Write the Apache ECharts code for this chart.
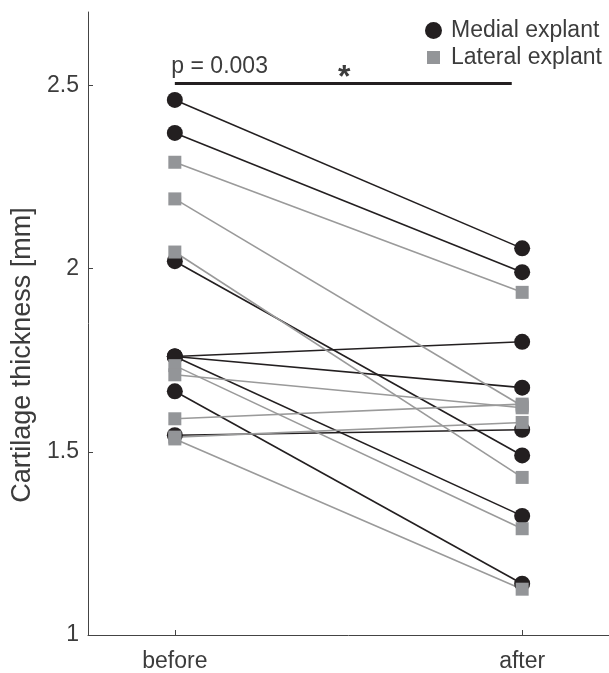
<!DOCTYPE html>
<html>
<head>
<meta charset="utf-8">
<script src="https://cdn.jsdelivr.net/npm/echarts@6/dist/echarts.min.js"></script>
<style>
  html, body { margin: 0; padding: 0; background: #fff; }
  #chart { width: 609px; height: 673px; }
</style>
</head>
<body>
<div id="chart"></div>
<script>
// conditions on the x axis
var conditions = ['before', 'after'];

// medial explants (black circles), paired before/after values
var medialBefore = [2.46, 2.37, 2.02, 1.76, 1.76, 1.76, 1.665, 1.545];
var medialAfter  = [2.055, 1.99, 1.49, 1.80, 1.675, 1.325, 1.14, 1.56];

// lateral explants (grey squares)
var lateralBefore = [2.29, 2.19, 2.045, 1.735, 1.71, 1.59, 1.54, 1.535];
var lateralAfter  = [1.935, 1.625, 1.43, 1.29, 1.62, 1.63, 1.58, 1.125];

var yTicks = [1, 1.5, 2, 2.5];
var sigBar = [[1, 2.505], [1.97, 2.505]];
var pText = 'p = 0.003';

var black = '#231f20';
var grey = '#939598';
var textColor = '#3c3c3c';
var font = 'Liberation Sans, Arial, sans-serif';

var chart = echarts.init(document.getElementById('chart'));

function pairSeries(name, before, after, symbol, size, color, lineColor) {
  var out = [];
  for (var i = 0; i < before.length; i++) {
    out.push({
      name: name,
      type: 'line',
      data: [[1, before[i]], [2, after[i]]],
      symbol: symbol,
      symbolSize: size,
      itemStyle: { color: color },
      lineStyle: { color: lineColor, width: 1.6 },
      emphasis: { disabled: true },
      animation: false
    });
  }
  return out;
}

var series = []
  .concat(pairSeries('Medial explant', medialBefore, medialAfter, 'circle', 16, black, black))
  .concat(pairSeries('Lateral explant', lateralBefore, lateralAfter, 'rect', 13, grey, '#9a9a9a'));

series.push({
  name: 'sig',
  type: 'line',
  data: sigBar,
  symbol: 'none',
  lineStyle: { color: black, width: 3 },
  silent: true,
  animation: false
});

var option = {
  backgroundColor: '#fff',
  animation: false,
  grid: { left: 88, top: 12, width: 524, height: 625, containLabel: false },
  legend: {
    orient: 'vertical',
    left: 423,
    top: 19,
    padding: 0,
    itemGap: 4,
    itemWidth: 17,
    itemHeight: 17,
    textStyle: { fontSize: 23, color: textColor, fontFamily: font, padding: [0, 0, 0, 4] },
    data: [
      { name: 'Medial explant', icon: 'circle', itemStyle: { color: black } },
      { name: 'Lateral explant', icon: 'rect', itemStyle: { color: grey, borderColor: '#fff', borderWidth: 4 } }
    ],
    selectedMode: false
  },
  xAxis: {
    type: 'value',
    min: 0.75,
    max: 2.25,
    splitLine: { show: false },
    axisLine: { show: true, lineStyle: { color: '#444', width: 1 } },
    axisTick: { show: true, inside: true, length: 5, customValues: [1, 2], lineStyle: { color: '#444' } },
    axisLabel: {
      customValues: [1, 2],
      margin: 15,
      fontSize: 23,
      color: textColor,
      fontFamily: font,
      formatter: function (v) { return conditions[Math.round(v) - 1]; }
    }
  },
  yAxis: {
    type: 'value',
    min: 1,
    max: 2.7,
    splitLine: { show: false },
    axisLine: { show: true, lineStyle: { color: '#444', width: 1 } },
    axisTick: { show: true, inside: true, length: 5, customValues: yTicks, lineStyle: { color: '#444' } },
    axisLabel: {
      customValues: yTicks,
      margin: 9,
      fontSize: 23,
      color: textColor,
      fontFamily: font
    }
  },
  series: series
};
chart.setOption(option);

// annotations placed from data coordinates
var pPos = chart.convertToPixel({ gridIndex: 0 }, [0.99, 2.55]);
var starPos = chart.convertToPixel({ gridIndex: 0 }, [1.488, 2.52]);
chart.setOption({
  graphic: [
    {
      type: 'text',
      x: 23, y: 355,
      rotation: Math.PI / 2,
      style: {
        text: 'Cartilage thickness [mm]',
        fontSize: 27,
        fontFamily: font,
        fill: textColor,
        align: 'center',
        verticalAlign: 'middle'
      }
    },
    {
      type: 'text',
      x: pPos[0], y: pPos[1],
      style: {
        text: pText,
        fontSize: 23,
        fontFamily: font,
        fill: textColor,
        align: 'left',
        verticalAlign: 'middle'
      }
    },
    {
      type: 'text',
      x: starPos[0], y: starPos[1],
      style: {
        text: '*',
        fontSize: 32,
        fontWeight: 'bold',
        fontFamily: font,
        fill: textColor,
        align: 'center',
        verticalAlign: 'middle'
      }
    }
  ]
});
</script>
</body>
</html>
